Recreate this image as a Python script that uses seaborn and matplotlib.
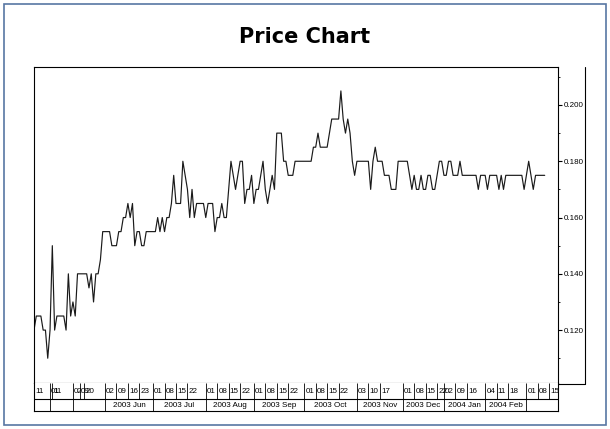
import numpy as np
import pandas as pd
import matplotlib
matplotlib.use("Agg")
import matplotlib.pyplot as plt
import matplotlib.ticker as mticker
from matplotlib.lines import Line2D
from matplotlib.patches import Rectangle
import seaborn as sns

## données
# jours de cotation : irréguliers au printemps 2003, puis jours ouvrés
early_days = ['2003-03-11', '2003-03-12', '2003-03-14', '2003-03-18', '2003-03-20', '2003-03-25', '2003-03-28',
              '2003-04-01', '2003-04-11', '2003-04-14', '2003-04-15', '2003-04-16', '2003-04-22', '2003-04-24',
              '2003-04-25', '2003-04-28', '2003-04-29',
              '2003-05-02', '2003-05-05', '2003-05-07', '2003-05-09', '2003-05-13', '2003-05-20', '2003-05-21',
              '2003-05-22', '2003-05-23', '2003-05-26', '2003-05-27', '2003-05-28', '2003-05-29', '2003-05-30']
regular_start, regular_end = '2003-06-02', '2004-03-11'
no_trade = ['2003-12-24', '2003-12-25', '2003-12-26', '2003-12-30', '2003-12-31', '2004-01-01',
            '2004-01-22', '2004-01-23', '2004-01-26', '2004-02-02', '2004-02-03']

prices = [0.120, 0.125, 0.125, 0.125, 0.120, 0.120, 0.110, 0.120, 0.150, 0.120,
          0.125, 0.125, 0.125, 0.125, 0.120, 0.140, 0.125, 0.130, 0.125, 0.140,
          0.140, 0.140, 0.140, 0.140, 0.135, 0.140, 0.130, 0.140, 0.140, 0.145,
          0.155, 0.155, 0.155, 0.155, 0.150, 0.150, 0.150, 0.155, 0.155, 0.160,
          0.160, 0.165, 0.160, 0.165, 0.150, 0.155, 0.155, 0.150, 0.150, 0.155,
          0.155, 0.155, 0.155, 0.155, 0.160, 0.155, 0.160, 0.155, 0.160, 0.160,
          0.165, 0.175, 0.165, 0.165, 0.165, 0.180, 0.175, 0.170, 0.160, 0.170,
          0.160, 0.165, 0.165, 0.165, 0.165, 0.160, 0.165, 0.165, 0.165, 0.155,
          0.160, 0.160, 0.165, 0.160, 0.160, 0.170, 0.180, 0.175, 0.170, 0.175,
          0.180, 0.180, 0.165, 0.170, 0.170, 0.175, 0.165, 0.170, 0.170, 0.175,
          0.180, 0.170, 0.165, 0.170, 0.175, 0.170, 0.190, 0.190, 0.190, 0.180,
          0.180, 0.175, 0.175, 0.175, 0.180, 0.180, 0.180, 0.180, 0.180, 0.180,
          0.180, 0.180, 0.185, 0.185, 0.190, 0.185, 0.185, 0.185, 0.185, 0.190,
          0.195, 0.195, 0.195, 0.195, 0.205, 0.195, 0.190, 0.195, 0.190, 0.180,
          0.175, 0.180, 0.180, 0.180, 0.180, 0.180, 0.180, 0.170, 0.180, 0.185,
          0.180, 0.180, 0.180, 0.175, 0.175, 0.175, 0.170, 0.170, 0.170, 0.180,
          0.180, 0.180, 0.180, 0.180, 0.175, 0.170, 0.175, 0.170, 0.170, 0.175,
          0.170, 0.170, 0.175, 0.175, 0.170, 0.170, 0.175, 0.180, 0.180, 0.175,
          0.175, 0.180, 0.180, 0.175, 0.175, 0.175, 0.180, 0.175, 0.175, 0.175,
          0.175, 0.175, 0.175, 0.175, 0.170, 0.175, 0.175, 0.175, 0.170, 0.175,
          0.175, 0.175, 0.175, 0.170, 0.175, 0.170, 0.175, 0.175, 0.175, 0.175,
          0.175, 0.175, 0.175, 0.175, 0.170, 0.175, 0.180, 0.175, 0.170, 0.175,
          0.175, 0.175, 0.175, 0.175]

tick_days = ['2003-03-11', '2003-04-01', '2003-04-11', '2003-05-02', '2003-05-09', '2003-05-20',
             '2003-06-02', '2003-06-09', '2003-06-16', '2003-06-23',
             '2003-07-01', '2003-07-08', '2003-07-15', '2003-07-22',
             '2003-08-01', '2003-08-08', '2003-08-15', '2003-08-22',
             '2003-09-01', '2003-09-08', '2003-09-15', '2003-09-22',
             '2003-10-01', '2003-10-08', '2003-10-15', '2003-10-22',
             '2003-11-03', '2003-11-10', '2003-11-17',
             '2003-12-01', '2003-12-08', '2003-12-15', '2003-12-22',
             '2004-01-02', '2004-01-09', '2004-01-16',
             '2004-02-04', '2004-02-11', '2004-02-18',
             '2004-03-01', '2004-03-08', '2004-03-15']
month_names = ['', '', '', '2003 Jun', '2003 Jul', '2003 Aug', '2003 Sep', '2003 Oct',
               '2003 Nov', '2003 Dec', '2004 Jan', '2004 Feb', '']

# axe des dates (une position par séance)
regular = pd.bdate_range(regular_start, regular_end)
regular = regular[~regular.isin(pd.to_datetime(no_trade))]
dates = pd.DatetimeIndex(pd.to_datetime(early_days)).append(regular)
n = min(len(dates), len(prices))
df = pd.DataFrame({'date': dates[:n], 'price': prices[:n]})
df['pos'] = np.arange(n)

axis_dates = dates[:n].append(pd.bdate_range('2004-03-12', '2004-03-24'))
tick_pos = [axis_dates.get_loc(pd.Timestamp(d)) for d in tick_days]
month_start = df.groupby(df['date'].dt.to_period('M'))['pos'].min().tolist()

## figure
W, H = 610, 429
fx = lambda px: px / W
fy = lambda py: 1 - py / H

sns.set_style("white")
plt.rcParams['font.family'] = ['Liberation Sans', 'DejaVu Sans']
plt.rcParams['text.color'] = 'black'
plt.rcParams['ytick.color'] = 'black'

fig = plt.figure(figsize=(6.1, 4.29), dpi=100)
ax = fig.add_axes([fx(34), fy(383), fx(558) - fx(34), fy(67) - fy(383)])
dax = fig.add_axes([fx(34), fy(411), fx(558) - fx(34), fy(383) - fy(411)])

sns.lineplot(data=df, x='pos', y='price', ax=ax, color='#1a1a1a', linewidth=0.85)
xmax = 228.8
ax.set_xlim(0, xmax)
ax.set_ylim(0.1012, 0.2135)
ax.set_xlabel('')
ax.set_ylabel('')
ax.yaxis.tick_right()
ax.yaxis.set_major_locator(mticker.MultipleLocator(0.02))
ax.yaxis.set_minor_locator(mticker.MultipleLocator(0.01))
ax.yaxis.set_major_formatter(mticker.FormatStrFormatter('%.3f'))
ax.tick_params(axis='y', which='major', direction='out', length=3, width=0.8, pad=1,
               labelsize=5.8, labelcolor='black', right=True, left=False)
ax.tick_params(axis='y', which='minor', direction='out', length=1.5, width=0.6, right=True, left=False)
ax.tick_params(axis='x', bottom=False, labelbottom=False)
for s in ax.spines.values():
    s.set_color('black')
    s.set_linewidth(0.8)

# échelle des dates en deux rangées
dax.set_xlim(0, xmax)
dax.set_ylim(0, 28)
dax.set_xticks([])
dax.set_yticks([])
for s in dax.spines.values():
    s.set_color('black')
    s.set_linewidth(0.8)
dax.spines['top'].set_visible(False)
dax.axhline(12, color='black', lw=0.8)
for p, d in zip(tick_pos, tick_days):
    dax.vlines(p, 12, 28, color='black', lw=0.6)
    dax.text(p + 0.5, 19.5, d[-2:], ha='left', va='center', fontsize=5.8)
edges = month_start + [xmax]
for i, name in enumerate(month_names):
    if i > 0:
        dax.vlines(edges[i], 0, 12, color='black', lw=0.6)
    if name:
        dax.text((edges[i] + edges[i + 1]) / 2, 5.8, name, ha='center', va='center', fontsize=5.8)

# cadre de l'échelle des prix et bordure
fig.add_artist(Line2D([fx(585), fx(585)], [fy(67), fy(384)], color='black', lw=0.8))
fig.add_artist(Line2D([fx(558), fx(585)], [fy(384), fy(384)], color='black', lw=0.8))
fig.add_artist(Rectangle((fx(4), fy(425)), fx(606) - fx(4), fy(4) - fy(425), fill=False,
                         edgecolor='#5877a3', lw=1.2))

fig.text(fx(305), fy(37), 'Price Chart', ha='center', va='center', fontsize=15,
         fontweight='bold', family='DejaVu Sans', color='black')

fig.savefig('out.png', dpi=100, facecolor='white')
